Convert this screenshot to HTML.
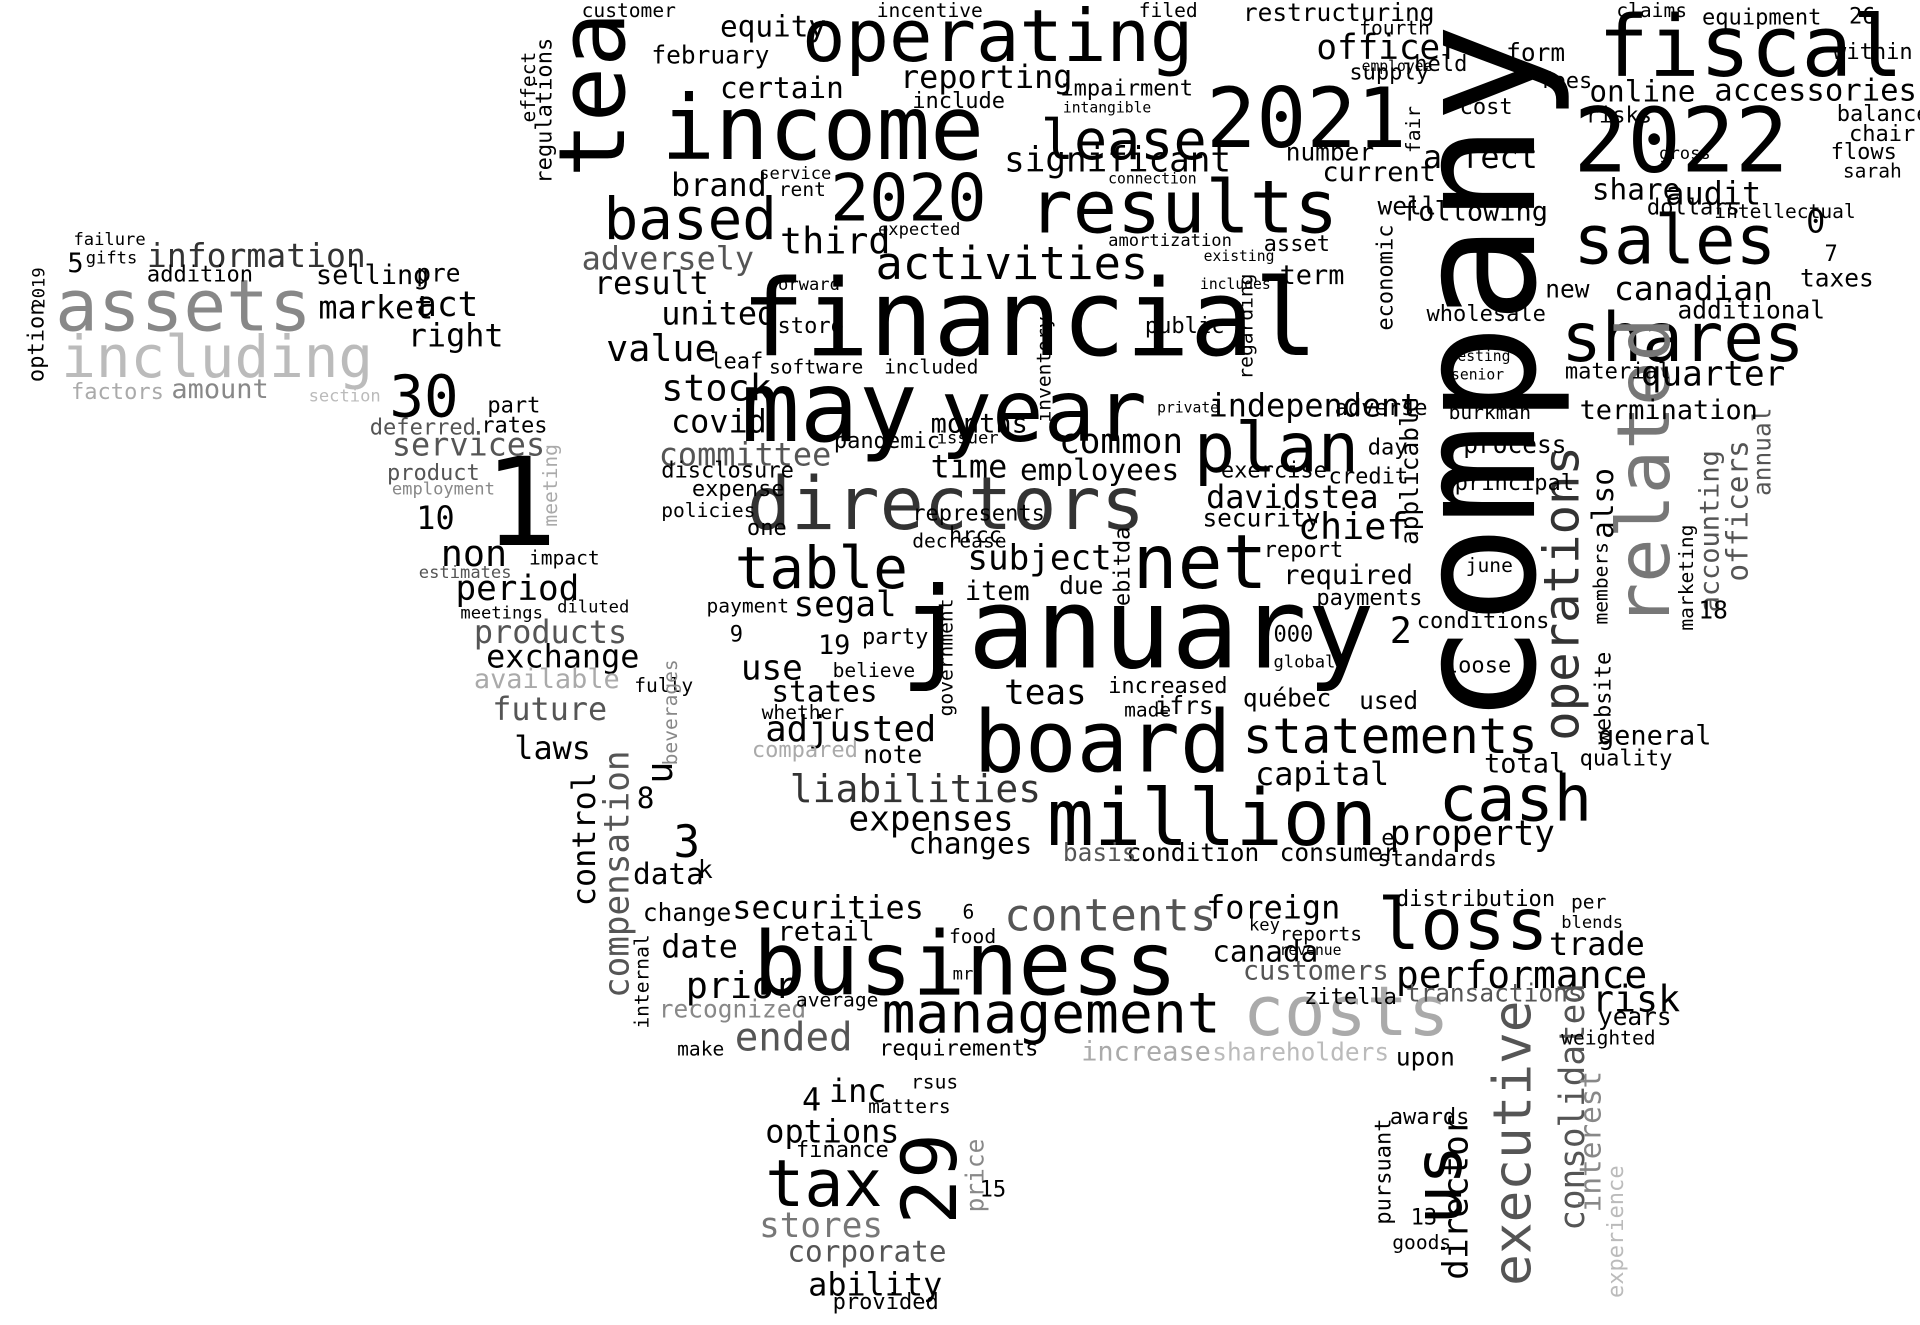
<!DOCTYPE html>
<html><head><meta charset="utf-8"><style>
html,body{margin:0;padding:0;background:#fff;}
svg{display:block;}
text{font-family:"DejaVu Sans Mono","Liberation Mono",monospace;}
</style></head><body>
<svg id="cloud" width="1920" height="1325" viewBox="0 0 1568 1082" preserveAspectRatio="none" xmlns="http://www.w3.org/2000/svg">
<rect width="1568" height="1082" fill="#fff"/>
</svg>
<script>
// word, x (left or column centre if vertical), baseline y (or bottom if vertical), size, colour, vertical
const words = [
["company",1212,592,136,"#000",1],
["financial",605,290,87,"#000",0],
["january",735,545,92,"#000",0],
["business",615,812,72,"#000",0],
["board",795,630,70,"#000",0],
["million",855,690,64,"#000",0],
["may",605,360,80,"#000",0],
["year",768,360,70,"#000",0],
["directors",610,432,60,"#333",0],
["income",540,130,73,"#000",0],
["operating",655,50,59,"#000",0],
["results",840,190,60,"#000",0],
["tea",487,145,75,"#000",1],
["2021",985,120,68,"#000",0],
["2022",1285,140,73,"#000",0],
["fiscal",1305,62,69,"#000",0],
["sales",1285,215,55,"#000",0],
["shares",1275,295,55,"#000",0],
["related",1345,512,60,"#777",1],
["net",925,480,61,"#000",0],
["table",600,480,47,"#000",0],
["plan",975,385,56,"#000",0],
["cash",1175,670,52,"#000",0],
["loss",1125,775,58,"#000",0],
["costs",1015,845,56,"#aaa",0],
["statements",1015,615,40,"#000",0],
["contents",820,760,36,"#555",0],
["management",720,843,46,"#000",0],
["tax",625,985,53,"#000",0],
["29",762,1000,62,"#000",1],
["us",1177,1000,54,"#000",1],
["executive",1237,1050,43,"#555",1],
["assets",45,270,58,"#888",0],
["including",50,308,47,"#bbb",0],
["1",395,445,100,"#000",0],
["30",318,340,47,"#000",0],
["based",493,195,47,"#000",0],
["2020",678,180,53,"#000",0],
["activities",715,228,37,"#000",0],
["lease",850,130,45,"#000",0],
["significant",820,140,28,"#000",0],
["liabilities",645,655,31,"#333",0],
["expenses",693,678,28,"#000",0],
["operations",1277,605,40,"#333",1],
["information",120,218,27,"#333",0],
["canadian",1318,245,27,"#000",0],
["accessories",1400,82,25,"#000",0],
["online",1298,83,24,"#000",0],
["quarter",1340,315,28,"#000",0],
["performance",1140,807,31,"#000",0],
["adjusted",625,605,29,"#000",0],
["teas",820,575,28,"#000",0],
["common",865,370,28,"#000",0],
["employees",833,392,24,"#000",0],
["independent",987,340,26,"#000",0],
["davidstea",985,415,26,"#000",0],
["chief",1060,440,30,"#000",0],
["stock",540,327,30,"#000",0],
["value",495,295,30,"#000",0],
["united",540,265,26,"#000",0],
["result",485,240,26,"#000",0],
["adversely",475,220,26,"#555",0],
["third",637,207,30,"#000",0],
["brand",548,160,26,"#000",0],
["certain",588,80,24,"#000",0],
["equity",588,30,24,"#000",0],
["reporting",735,72,26,"#000",0],
["february",532,52,20,"#000",0],
["committee",538,380,26,"#555",0],
["covid",548,353,26,"#000",0],
["subject",790,465,28,"#000",0],
["segal",648,503,28,"#000",0],
["use",605,555,28,"#000",0],
["states",630,573,24,"#000",0],
["securities",598,750,26,"#000",0],
["retail",635,768,22,"#000",0],
["date",540,782,26,"#000",0],
["prior",560,815,30,"#000",0],
["ended",600,858,32,"#555",0],
["canada",990,785,24,"#000",0],
["foreign",985,750,26,"#000",0],
["trade",1265,780,26,"#000",0],
["risk",1300,826,30,"#000",0],
["property",1135,690,28,"#000",0],
["capital",1025,641,26,"#000",0],
["general",1305,608,22,"#000",0],
["total",1212,631,22,"#000",0],
["increase",883,866,22,"#aaa",0],
["shareholders",990,866,20,"#bbb",0],
["requirements",718,862,18,"#000",0],
["inc",677,900,26,"#000",0],
["4",655,907,26,"#000",0],
["options",625,933,26,"#000",0],
["stores",620,1010,28,"#777",0],
["corporate",643,1030,24,"#555",0],
["ability",660,1058,26,"#000",0],
["director",1190,1045,28,"#000",1],
["consolidated",1285,1005,28,"#555",1],
["interest",1300,990,24,"#888",1],
["experience",1320,1060,18,"#bbb",1],
["compensation",505,815,28,"#555",1],
["control",478,740,26,"#000",1],
["u",540,640,30,"#000",1],
["3",550,700,36,"#000",0],
["non",360,462,30,"#000",0],
["10",340,432,26,"#000",0],
["period",372,490,28,"#000",0],
["products",387,525,26,"#555",0],
["exchange",397,545,26,"#000",0],
["future",402,588,26,"#555",0],
["laws",420,620,26,"#000",0],
["services",320,372,26,"#555",0],
["market",260,260,26,"#000",0],
["act",340,258,28,"#000",0],
["right",333,283,26,"#000",0],
["amount",140,325,22,"#888",0],
["factors",58,326,18,"#aaa",0],
["selling",258,232,22,"#000",0],
["pre",340,230,20,"#000",0],
["5",55,222,22,"#000",0],
["option",30,312,18,"#000",1],
["2019",32,252,14,"#000",1],
["months",760,353,22,"#000",0],
["time",760,390,26,"#000",0],
["pandemic",681,366,18,"#000",0],
["hrcc",775,443,18,"#000",0],
["item",788,490,22,"#000",0],
["due",865,485,20,"#000",0],
["note",705,623,20,"#000",0],
["changes",742,697,24,"#000",0],
["condition",920,703,20,"#000",0],
["basis",868,703,20,"#555",0],
["consumer",1045,703,20,"#000",0],
["standards",1125,707,18,"#000",0],
["distribution",1140,740,18,"#000",0],
["current",1080,148,22,"#000",0],
["following",1145,180,22,"#000",0],
["affect",1162,137,26,"#000",0],
["audit",1360,167,26,"#000",0],
["share",1300,163,24,"#000",0],
["officer",1075,48,28,"#000",0],
["restructuring",1015,17,20,"#000",0],
["equipment",1390,20,18,"#000",0],
["impairment",866,78,18,"#000",0],
["incentive",716,14,16,"#000",0],
["filed",930,14,16,"#000",0],
["customer",475,14,16,"#000",0],
["regulations",445,150,18,"#000",1],
["effect",432,100,16,"#000",1],
["additional",1370,260,20,"#000",0],
["new",1262,243,20,"#000",0],
["accounting",1397,500,22,"#555",1],
["officers",1420,475,24,"#555",1],
["annual",1440,405,20,"#555",1],
["marketing",1378,515,16,"#000",1],
["members",1308,510,16,"#000",1],
["also",1310,440,24,"#000",1],
["security",982,430,20,"#000",0],
["report",1032,455,18,"#000",0],
["required",1048,477,22,"#000",0],
["payments",1075,494,18,"#000",0],
["conditions",1157,513,18,"#000",0],
["loose",1180,549,18,"#000",0],
["québec",1015,577,20,"#000",0],
["used",1110,579,20,"#000",0],
["website",1310,608,18,"#000",1],
["quality",1290,625,18,"#000",0],
["material",1278,309,18,"#000",0],
["termination",1290,342,22,"#000",0],
["wholesale",1165,262,18,"#000",0],
["term",1045,232,22,"#000",0],
["asset",1032,205,18,"#000",0],
["number",1050,131,20,"#000",0],
["form",1230,50,20,"#000",0],
["claims",1320,14,16,"#000",0],
["fees",1257,72,18,"#000",0],
["taxes",1470,234,20,"#000",0],
["weighted",1275,853,16,"#000",0],
["years",1305,837,20,"#000",0],
["upon",1140,870,20,"#000",0],
["awards",1135,918,18,"#000",0],
["pursuant",1130,1000,18,"#000",1],
["13",1152,1000,18,"#000",0],
["goods",1137,1020,16,"#000",0],
["price",797,990,20,"#888",1],
["15",800,977,18,"#000",0],
["finance",650,945,18,"#000",0],
["provided",680,1069,18,"#000",0],
["data",517,722,24,"#000",0],
["k",570,717,20,"#000",0],
["8",520,660,24,"#000",0],
["change",525,752,20,"#000",0],
["internal",525,840,16,"#000",1],
["available",387,562,22,"#aaa",0],
["recognized",538,831,20,"#888",0],
["make",553,862,16,"#000",0],
["ebitda",917,495,18,"#000",1],
["ifrs",943,583,20,"#000",0],
["increased",905,566,18,"#000",0],
["made",918,585,16,"#000",0],
["public",935,272,18,"#000",0],
["store",635,272,18,"#000",0],
["leaf",580,301,18,"#000",0],
["one",610,437,18,"#000",0],
["policies",540,422,16,"#000",0],
["expense",565,405,18,"#000",0],
["disclosure",540,390,18,"#000",0],
["payment",577,500,16,"#000",0],
["decrease",745,447,16,"#000",0],
["represents",745,425,18,"#000",0],
["exercise",997,390,18,"#000",0],
["credit",1085,395,18,"#000",0],
["day",1117,371,18,"#000",0],
["adverse",1090,339,18,"#000",0],
["process",1195,370,20,"#000",0],
["principal",1188,400,18,"#000",0],
["june",1197,467,16,"#000",0],
["burkman",1183,342,16,"#000",0],
["18",1387,505,20,"#000",0],
["0",1475,190,26,"#000",0],
["7",1490,213,18,"#000",0],
["26",1510,19,18,"#000",0],
["within",1497,48,18,"#000",0],
["balance",1500,99,18,"#000",0],
["chair",1510,115,18,"#000",0],
["flows",1495,130,18,"#000",0],
["sarah",1505,145,16,"#000",0],
["risks",1295,100,18,"#000",0],
["gross",1355,130,14,"#000",0],
["dollars",1345,175,18,"#000",0],
["intellectual",1400,178,16,"#000",0],
["economic",1132,270,18,"#000",1],
["well",1125,175,20,"#000",0],
["regarding",1018,310,16,"#000",1],
["inventory",853,345,16,"#000",1],
["government",773,585,16,"#000",1],
["applicable",1152,445,20,"#000",1],
["2",1135,525,30,"#000",0],
["e",1128,690,18,"#000",0],
["000",1040,524,18,"#000",0],
["global",1040,545,14,"#000",0],
["9",596,524,18,"#000",0],
["19",668,534,22,"#000",0],
["party",704,526,18,"#000",0],
["believe",680,553,16,"#000",0],
["whether",622,587,16,"#000",0],
["compared",614,618,18,"#aaa",0],
["6",786,750,16,"#000",0],
["food",775,770,16,"#000",0],
["mr",778,800,14,"#000",0],
["average",650,822,16,"#000",0],
["rsus",744,889,16,"#000",0],
["matters",709,909,16,"#000",0],
["reports",1045,768,16,"#000",0],
["customers",1015,800,22,"#555",0],
["zitella",1065,820,18,"#000",0],
["transactions",1148,818,20,"#555",0],
["blends",1275,758,14,"#000",0],
["per",1283,742,16,"#000",0],
["deferred",302,355,18,"#555",0],
["rates",393,353,18,"#000",0],
["part",398,337,18,"#000",0],
["product",316,392,18,"#555",0],
["employment",320,404,14,"#888",0],
["meeting",450,430,16,"#aaa",1],
["impact",432,461,16,"#000",0],
["meetings",376,505,14,"#000",0],
["diluted",455,500,14,"#000",0],
["estimates",342,472,14,"#555",0],
["fully",518,565,16,"#000",0],
["gifts",70,215,14,"#000",0],
["failure",60,200,14,"#000",0],
["addition",120,230,18,"#000",0],
["beverages",548,625,16,"#888",1],
["section",252,328,14,"#bbb",0],
["supply",1102,65,18,"#000",0],
["fourth",1110,28,16,"#000",0],
["employee",1112,58,12,"#000",0],
["include",745,88,18,"#000",0],
["intangible",868,92,12,"#000",0],
["amortization",905,201,14,"#000",0],
["existing",983,213,12,"#000",0],
["includes",980,236,12,"#000",0],
["connection",905,150,12,"#000",0],
["software",628,305,16,"#000",0],
["included",722,305,16,"#000",0],
["issuer",765,362,14,"#000",0],
["vesting",1183,295,12,"#000",0],
["senior",1185,310,12,"#000",0],
["private",945,337,12,"#000",0],
["key",1020,760,14,"#000",0],
["revenue",1045,780,12,"#000",0],
["rent",636,160,16,"#000",0],
["service",620,146,14,"#000",0],
["forward",627,237,14,"#000",0],
["expected",717,192,14,"#000",0],
["cost",1192,93,18,"#000",0],
["held",1155,58,18,"#000",0],
["fair",1155,125,16,"#000",1]
];
const svg = document.getElementById('cloud');
const NS = 'http://www.w3.org/2000/svg';
for (const [w, x, y, s, c, v] of words) {
  const t = document.createElementNS(NS, 'text');
  t.textContent = w;
  t.setAttribute('font-size', s);
  t.setAttribute('fill', c);
  if (v) {
    t.setAttribute('transform', 'translate(' + (x + 0.3 * s) + ',' + y + ') rotate(-90)');
  } else {
    t.setAttribute('x', x);
    t.setAttribute('y', y);
  }
  
  
  svg.appendChild(t);
}
</script>
</body></html>
